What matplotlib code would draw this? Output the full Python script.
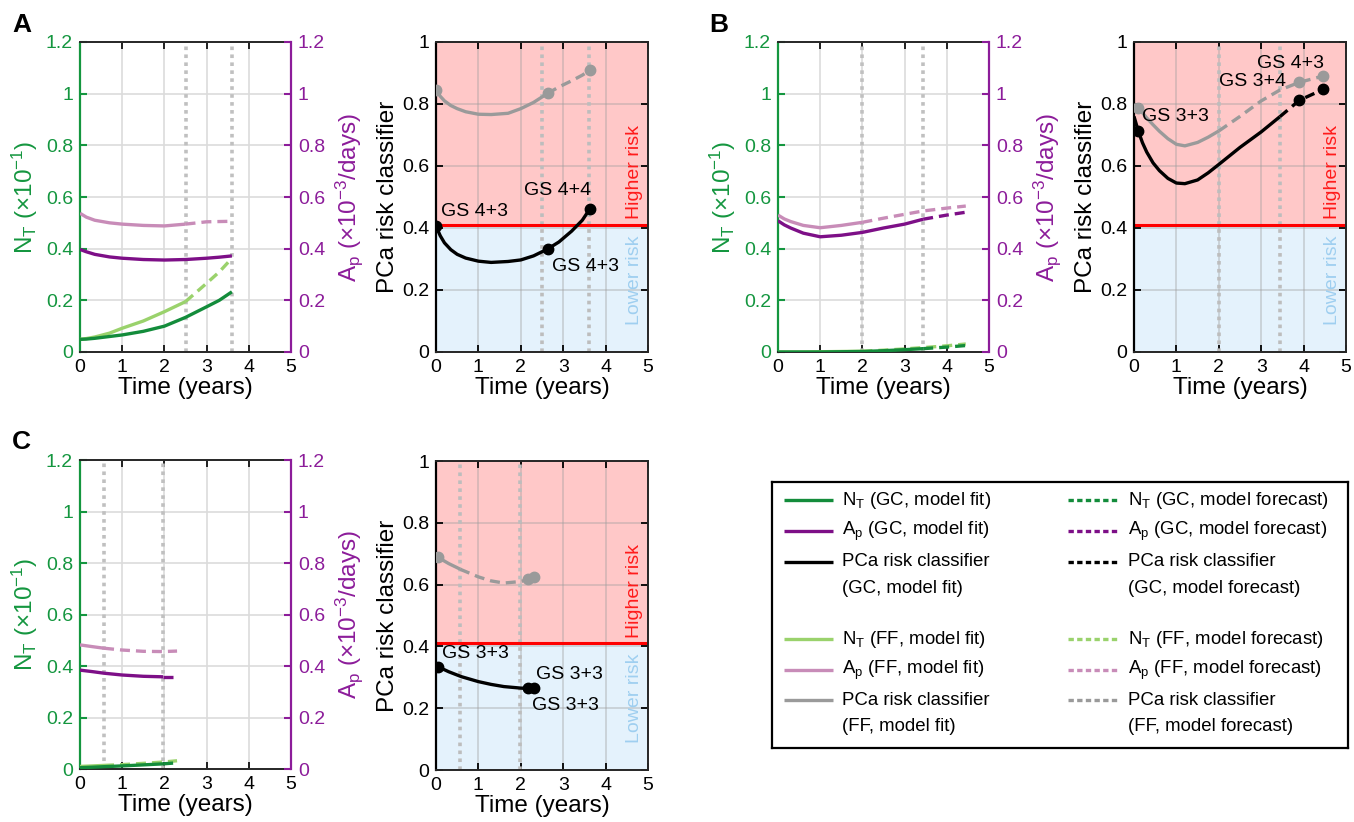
import numpy as np
import matplotlib
matplotlib.use('Agg')
import matplotlib.pyplot as plt
from matplotlib.ticker import FuncFormatter

plt.rcParams['font.family'] = ['Liberation Sans', 'DejaVu Sans']
plt.rcParams['mathtext.fontset'] = 'custom'
plt.rcParams['mathtext.rm'] = 'Liberation Sans'
plt.rcParams['mathtext.it'] = 'Liberation Sans:italic'
plt.rcParams['mathtext.bf'] = 'Liberation Sans:bold'

# ---------------- data ----------------
# Panel A
A_time = [0, 0.15, 0.35, 0.7, 1.0, 1.5, 2.0, 2.5, 3.0, 3.3, 3.6]
A_nt_gc = [0.049, 0.050, 0.053, 0.060, 0.066, 0.080, 0.100, 0.134, 0.175, 0.200, 0.233]
A_nt_ff = [0.049, 0.052, 0.058, 0.073, 0.092, 0.120, 0.156, 0.195, 0.266, 0.310, 0.363]
A_ap_gc = [0.397, 0.388, 0.378, 0.368, 0.363, 0.358, 0.356, 0.358, 0.363, 0.367, 0.372]
A_ap_ff = [0.537, 0.522, 0.510, 0.500, 0.495, 0.490, 0.488, 0.495, 0.504, 0.505, 0.506]
A_fit_end_gc = 3.6
A_fit_end_ff = 2.5
A_visits = [2.5, 3.6]
A_risk_time = [0, 0.1, 0.2, 0.35, 0.5, 0.7, 1.0, 1.3, 1.7, 2.0, 2.3, 2.63, 2.9, 3.2, 3.45, 3.63]
A_risk_gc = [0.406, 0.375, 0.352, 0.330, 0.315, 0.303, 0.293, 0.289, 0.292, 0.297,
             0.310, 0.332, 0.355, 0.390, 0.425, 0.462]
A_risk_ff = [0.845, 0.825, 0.810, 0.795, 0.785, 0.775, 0.767, 0.766, 0.770, 0.785,
             0.805, 0.834, 0.855, 0.875, 0.893, 0.909]
A_risk_fit_end_gc = 3.63
A_risk_fit_end_ff = 2.63
A_biopsy_time = [0, 2.63, 3.63]
A_gs_labels = ['GS 4+3', 'GS 4+4', 'GS 4+3']
A_gs_x = [0.12, 2.08, 2.73]
A_gs_y = [0.452, 0.52, 0.275]

# Panel B
B_time = [0, 0.15, 0.3, 0.6, 1.0, 1.5, 2.0, 2.5, 3.0, 3.44, 4.0, 4.45]
B_nt_gc = [0.0, 0.0, 0.0, 0.0, 0.0, 0.001, 0.002, 0.005, 0.009, 0.013, 0.019, 0.025]
B_nt_ff = [0.0, 0.0, 0.0, 0.0, 0.001, 0.002, 0.003, 0.007, 0.012, 0.017, 0.024, 0.031]
B_ap_gc = [0.508, 0.492, 0.480, 0.460, 0.446, 0.452, 0.463, 0.480, 0.495, 0.514, 0.530, 0.541]
B_ap_ff = [0.530, 0.515, 0.505, 0.490, 0.481, 0.490, 0.502, 0.518, 0.533, 0.546, 0.557, 0.565]
B_fit_end_gc = 3.44
B_fit_end_ff = 2.0
B_visits = [2.0, 3.44]
B_risk_time = [0, 0.1, 0.2, 0.3, 0.45, 0.6, 0.8, 1.0, 1.2, 1.5, 1.75, 2.0, 2.5, 3.0, 3.44, 3.9, 4.46]
B_risk_gc = [0.760, 0.713, 0.675, 0.645, 0.610, 0.585, 0.560, 0.545, 0.543, 0.555,
             0.578, 0.605, 0.660, 0.710, 0.759, 0.812, 0.847]
B_risk_ff = [0.800, 0.786, 0.772, 0.755, 0.733, 0.712, 0.688, 0.670, 0.665, 0.676,
             0.693, 0.713, 0.760, 0.810, 0.845, 0.870, 0.890]
B_risk_fit_end_gc = 3.44
B_risk_fit_end_ff = 2.0
B_biopsy_time = [0.1, 3.9, 4.46]
B_gs_labels = ['GS 3+3', 'GS 3+4', 'GS 4+3']
B_gs_x = [0.2, 2.0, 2.89]
B_gs_y = [0.759, 0.872, 0.93]

# Panel C
C_time = [0, 0.3, 0.57, 1.0, 1.5, 1.97, 2.3]
C_nt_gc = [0.005, 0.007, 0.009, 0.012, 0.016, 0.020, 0.024]
C_nt_ff = [0.010, 0.012, 0.014, 0.017, 0.022, 0.027, 0.032]
C_ap_gc = [0.384, 0.378, 0.372, 0.365, 0.360, 0.358, 0.358]
C_ap_ff = [0.482, 0.475, 0.469, 0.462, 0.457, 0.456, 0.458]
C_fit_end_gc = 1.97
C_fit_end_ff = 0.57
C_visits = [0.57, 1.97]
C_risk_time = [0.05, 0.3, 0.6, 1.0, 1.3, 1.6, 2.0, 2.18, 2.31]
C_risk_gc = [0.334, 0.318, 0.302, 0.286, 0.277, 0.270, 0.265, 0.264, 0.264]
C_risk_ff = [0.688, 0.668, 0.648, 0.625, 0.612, 0.605, 0.610, 0.617, 0.624]
C_risk_fit_end_gc = 2.31
C_risk_fit_end_ff = 0.57
C_biopsy_time = [0.05, 2.18, 2.31]
C_gs_labels = ['GS 3+3', 'GS 3+3', 'GS 3+3']
C_gs_x = [0.13, 2.37, 2.26]
C_gs_y = [0.378, 0.31, 0.21]

risk_threshold = 0.41
x_ticks = [0, 1, 2, 3, 4, 5]
left_y_ticks = [0, 0.2, 0.4, 0.6, 0.8, 1.0, 1.2]
risk_y_ticks = [0, 0.2, 0.4, 0.6, 0.8, 1.0]

# ---------------- styles ----------------
GREEN_D = '#138c3b'
GREEN_L = '#9ad26c'
PURPLE_D = '#7d0f87'
PURPLE_L = '#c88cb8'
GRAY = '#9a9a9a'
GREEN_AX = '#14963f'
PURPLE_AX = '#8c1c9a'
PINK_BG = '#ffc8c8'
BLUE_BG = '#e4f2fc'
LOWER_TXT = '#9fcff0'
LW = 2.4
DASH = (0, (3, 1.8))
TICK_FS = 14
LABEL_FS = 17.5

W, H = 1354, 822
fig = plt.figure(figsize=(W / 100, H / 100), dpi=100)


def rect(x0, y0, x1, y1):
    return [x0 / W, 1 - y1 / H, (x1 - x0) / W, (y1 - y0) / H]


def fmt(v, pos=None):
    return f'{v:g}'


def split_plot(ax, t, y, t_split, color, zorder=3):
    t = np.asarray(t, float)
    y = np.asarray(y, float)
    if t_split >= t.max():
        ax.plot(t, y, color=color, lw=LW, zorder=zorder, solid_capstyle='butt',
                solid_joinstyle='round')
        return
    ys = np.interp(t_split, t, y)
    t1 = np.concatenate([t[t < t_split], [t_split]])
    y1 = np.concatenate([y[t < t_split], [ys]])
    t2 = np.concatenate([[t_split], t[t > t_split]])
    y2 = np.concatenate([[ys], y[t > t_split]])
    ax.plot(t1, y1, color=color, lw=LW, zorder=zorder, solid_capstyle='butt',
            solid_joinstyle='round')
    ax.plot(t2, y2, color=color, lw=LW, ls=DASH, zorder=zorder)


def left_panel(pos, t, nt_gc, nt_ff, ap_gc, ap_ff, fe_gc, fe_ff, visits):
    ax = fig.add_axes(rect(*pos))
    ax.set_xlim(0, 5)
    ax.set_ylim(0, 1.2)
    ax.set_xticks(x_ticks)
    ax.set_yticks(left_y_ticks)
    ax.yaxis.set_major_formatter(FuncFormatter(fmt))
    ax.grid(True, color='#dcdcdc', lw=1.2)
    ax.set_axisbelow(True)
    for v in visits:
        ax.axvline(v, color='#c0c0c0', lw=2.6, ls=(0, (1, 1.2)), zorder=1)
    split_plot(ax, t, nt_ff, fe_ff, GREEN_L, zorder=3)
    split_plot(ax, t, nt_gc, fe_gc, GREEN_D, zorder=4)
    ax.tick_params(axis='x', direction='in', top=True, length=5, width=1.2,
                   labelsize=TICK_FS, pad=5, colors='black')
    ax.tick_params(axis='y', direction='in', length=5, width=1.5,
                   labelsize=TICK_FS, pad=5, colors=GREEN_AX)
    ax.spines['left'].set_color(GREEN_AX)
    ax.spines['left'].set_linestyle((0, (1, 1)))
    ax.spines['left'].set_linewidth(1.6)
    ax.spines['right'].set_visible(False)
    for s in ('top', 'bottom'):
        ax.spines[s].set_color('#262626')
        ax.spines[s].set_linewidth(1.4)
    ax.set_xlabel('Time (years)', fontsize=LABEL_FS, labelpad=1)
    ax.set_ylabel(r'N$_{\mathrm{T}}$ (×10$^{\mathrm{-1}}$)', fontsize=LABEL_FS,
                  color=GREEN_AX, labelpad=4)

    ax2 = ax.twinx()
    ax2.set_ylim(0, 1.2)
    ax2.set_yticks(left_y_ticks)
    ax2.yaxis.set_major_formatter(FuncFormatter(fmt))
    split_plot(ax2, t, ap_ff, fe_ff, PURPLE_L, zorder=3)
    split_plot(ax2, t, ap_gc, fe_gc, PURPLE_D, zorder=4)
    ax2.tick_params(axis='y', direction='in', length=5, width=1.5,
                    labelsize=TICK_FS, pad=5, colors=PURPLE_AX)
    for s in ('left', 'top', 'bottom'):
        ax2.spines[s].set_visible(False)
    ax2.spines['right'].set_color(PURPLE_AX)
    ax2.spines['right'].set_linewidth(1.6)
    ax2.set_ylabel(r'A$_{\mathrm{p}}$ (×10$^{\mathrm{-3}}$/days)', fontsize=LABEL_FS,
                   color=PURPLE_AX, labelpad=6)
    return ax


def risk_panel(pos, t, r_gc, r_ff, fe_gc, fe_ff, visits, bt, labels, lx, ly):
    ax = fig.add_axes(rect(*pos))
    ax.set_xlim(0, 5)
    ax.set_ylim(0, 1)
    ax.set_xticks(x_ticks)
    ax.set_yticks(risk_y_ticks)
    ax.yaxis.set_major_formatter(FuncFormatter(fmt))
    ax.axhspan(risk_threshold, 1, color=PINK_BG, zorder=-2, lw=0)
    ax.axhspan(0, risk_threshold, color=BLUE_BG, zorder=-2, lw=0)
    ax.grid(True, color='#a0a0a0', alpha=0.45, lw=1.2)
    ax.set_axisbelow(True)
    for v in visits:
        ax.axvline(v, color='#bdbdbd', lw=2.6, ls=(0, (1, 1.2)), zorder=1)
    ax.axhline(risk_threshold, color='#ff0000', lw=2.2, zorder=2)
    split_plot(ax, t, r_ff, fe_ff, GRAY, zorder=3)
    split_plot(ax, t, r_gc, fe_gc, 'black', zorder=4)
    ax.plot(bt, np.interp(bt, t, r_ff), 'o', color=GRAY, ms=7.5, zorder=5)
    ax.plot(bt, np.interp(bt, t, r_gc), 'o', color='black', ms=7.5, zorder=6)
    for lab, x, y in zip(labels, lx, ly):
        ax.text(x, y, lab, fontsize=TICK_FS, ha='left', va='center', zorder=7)
    ax.text(4.69, 0.58, 'Higher risk', color='#ff1a1a', fontsize=TICK_FS,
            rotation=90, ha='center', va='center')
    ax.text(4.69, 0.232, 'Lower risk', color=LOWER_TXT, fontsize=TICK_FS,
            rotation=90, ha='center', va='center')
    ax.tick_params(direction='in', top=True, right=True, length=5, width=1.3,
                   labelsize=TICK_FS, pad=5, colors='black')
    for s in ('top', 'bottom', 'right'):
        ax.spines[s].set_color('#262626')
        ax.spines[s].set_linewidth(1.4)
    ax.spines['left'].set_linestyle((0, (1, 1)))
    ax.spines['left'].set_linewidth(1.6)
    ax.set_xlabel('Time (years)', fontsize=LABEL_FS, labelpad=1)
    ax.set_ylabel('PCa risk classifier', fontsize=LABEL_FS, labelpad=2)
    return ax


left_panel((80, 42, 291, 352), A_time, A_nt_gc, A_nt_ff, A_ap_gc, A_ap_ff,
           A_fit_end_gc, A_fit_end_ff, A_visits)
risk_panel((436, 42, 648, 352), A_risk_time, A_risk_gc, A_risk_ff,
           A_risk_fit_end_gc, A_risk_fit_end_ff, A_visits, A_biopsy_time,
           A_gs_labels, A_gs_x, A_gs_y)
left_panel((778, 42, 989, 352), B_time, B_nt_gc, B_nt_ff, B_ap_gc, B_ap_ff,
           B_fit_end_gc, B_fit_end_ff, B_visits)
risk_panel((1134, 42, 1346, 352), B_risk_time, B_risk_gc, B_risk_ff,
           B_risk_fit_end_gc, B_risk_fit_end_ff, B_visits, B_biopsy_time,
           B_gs_labels, B_gs_x, B_gs_y)
left_panel((80, 460, 291, 769), C_time, C_nt_gc, C_nt_ff, C_ap_gc, C_ap_ff,
           C_fit_end_gc, C_fit_end_ff, C_visits)
risk_panel((436, 461, 648, 770), C_risk_time, C_risk_gc, C_risk_ff,
           C_risk_fit_end_gc, C_risk_fit_end_ff, C_visits, C_biopsy_time,
           C_gs_labels, C_gs_x, C_gs_y)

# panel letters
for lab, x, y in [('A', 12, 25), ('B', 709, 25), ('C', 12, 442)]:
    fig.text(x / W, 1 - y / H, lab, fontsize=19, fontweight='bold',
             ha='left', va='center')

# ---------------- legend ----------------
lg_x0, lg_y0, lg_x1, lg_y1 = 772, 482, 1348, 748
lax = fig.add_axes(rect(lg_x0, lg_y0, lg_x1, lg_y1))
lax.set_xlim(0, lg_x1 - lg_x0)
lax.set_ylim(lg_y1 - lg_y0, 0)
lax.set_xticks([])
lax.set_yticks([])
for s in lax.spines.values():
    s.set_linewidth(1.6)
    s.set_color('black')

legend_colors = [GREEN_D, PURPLE_D, 'black', GREEN_L, PURPLE_L, GRAY]
legend_names = [r'N$_{\mathrm{T}}$', r'A$_{\mathrm{p}}$', 'PCa risk classifier',
                r'N$_{\mathrm{T}}$', r'A$_{\mathrm{p}}$', 'PCa risk classifier']
legend_group = ['GC', 'GC', 'GC', 'FF', 'FF', 'FF']
legend_rows = [18, 49, 80, 157, 188, 218]
col_line_x = [(12, 61), (296, 346)]
col_text_x = [70, 356]
col_kind = ['model fit', 'model forecast']
LEG_FS = 13.4

for ci in range(2):
    for name, grp, col, ry in zip(legend_names, legend_group, legend_colors, legend_rows):
        ls = '-' if ci == 0 else (0, (1.6, 1.0))
        lax.plot(col_line_x[ci], [ry, ry], color=col, lw=2.4, ls=ls,
                 solid_capstyle='butt')
        if name.startswith('PCa'):
            lax.text(col_text_x[ci], ry, name, fontsize=LEG_FS, va='center', ha='left')
            lax.text(col_text_x[ci], ry + 26, f'({grp}, {col_kind[ci]})',
                     fontsize=LEG_FS, va='center', ha='left')
        else:
            lax.text(col_text_x[ci], ry, f'{name} ({grp}, {col_kind[ci]})',
                     fontsize=LEG_FS, va='center', ha='left')

fig.savefig('out.png', dpi=100)
